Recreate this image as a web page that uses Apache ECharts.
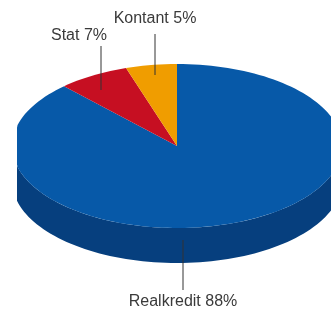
<!DOCTYPE html>
<html>
<head>
<meta charset="utf-8">
<script src="https://cdn.jsdelivr.net/npm/echarts@6/dist/echarts.min.js"></script>
<style>
    html, body { margin: 0; padding: 0; background: #fff; }
    #chart { width: 331px; height: 313px; }
</style>
</head>
<body>
<div id="chart"></div>

<script>
    // data (clockwise from 12 o'clock)
    var categories = ['Realkredit', 'Stat', 'Kontant'];
    var shares = [88, 7, 5];

    // colours: top face / side wall
    var topColors = ['#0759a8', '#c60f22', '#f09d00'];
    var sideColors = ['#063f7e', '#8c0a1f', '#b07300'];

    // label placement: text anchor and leader line (x, y1, y2)
    var labelText = [[183, 302, 'center'], [107, 36, 'right'], [155, 19, 'center']];
    var labelLine = [[183, 240, 290], [101, 46, 90], [155, 34, 75]];

    // 3d pie geometry
    var cx = 177, cy = 146, rx = 165, ry = 82, depth = 35, clipLeft = 17;
    var startAngle = 90;

    var total = shares.reduce(function (a, b) { return a + b; }, 0);

    function pt(deg, dy) {
        var r = deg * Math.PI / 180;
        return [Math.max(clipLeft, cx + rx * Math.cos(r)), cy - ry * Math.sin(r) + dy];
    }

    function arc(from, to, dy) {
        var pts = [];
        var n = Math.max(2, Math.ceil(Math.abs(to - from) / 2));
        for (var k = 0; k <= n; k++) {
            pts.push(pt(from + (to - from) * k / n, dy));
        }
        return pts;
    }

    function renderItem(params, api) {
        var i = params.dataIndex;
        var before = 0;
        for (var j = 0; j < i; j++) before += shares[j];
        var a0 = startAngle - before / total * 360;
        var a1 = a0 - api.value(0) / total * 360;

        var children = [];

        // side wall: only the part facing the viewer (sin < 0)
        for (var k = -2; k <= 1; k++) {
            var lo = 180 + 360 * k, hi = 360 + 360 * k;
            var s = Math.max(a1, lo), e = Math.min(a0, hi);
            if (e > s) {
                var side = arc(s, e, 0).concat(arc(e, s, depth));
                children.push({
                    type: 'polygon',
                    z2: 0,
                    shape: { points: side },
                    style: { fill: sideColors[i] }
                });
            }
        }

        // top face
        var top = [[cx, cy]].concat(arc(a0, a1, 0));
        children.push({
            type: 'polygon',
            z2: 10,
            shape: { points: top },
            style: { fill: topColors[i] }
        });

        // leader line and label
        var ln = labelLine[i];
        children.push({
            type: 'line',
            z2: 20,
            shape: { x1: ln[0], y1: ln[1], x2: ln[0], y2: ln[2] },
            style: { stroke: '#333', lineWidth: 1 }
        });
        var lt = labelText[i];
        children.push({
            type: 'text',
            z2: 20,
            x: lt[0],
            y: lt[1],
            style: {
                text: categories[i] + ' ' + shares[i] + '%',
                fill: '#3a3a3a',
                font: '16px "Liberation Sans", Arial, sans-serif',
                align: lt[2],
                verticalAlign: 'middle'
            }
        });

        return { type: 'group', children: children };
    }

    var myChart = echarts.init(document.getElementById('chart'));
    var option = {
        animation: false,
        series: [{
            type: 'custom',
            coordinateSystem: 'none',
            renderItem: renderItem,
            data: shares.map(function (v, idx) { return { name: categories[idx], value: [v] }; })
        }]
    };
    myChart.setOption(option);
    window.onresize = myChart.resize;
</script>
</body>
</html>
